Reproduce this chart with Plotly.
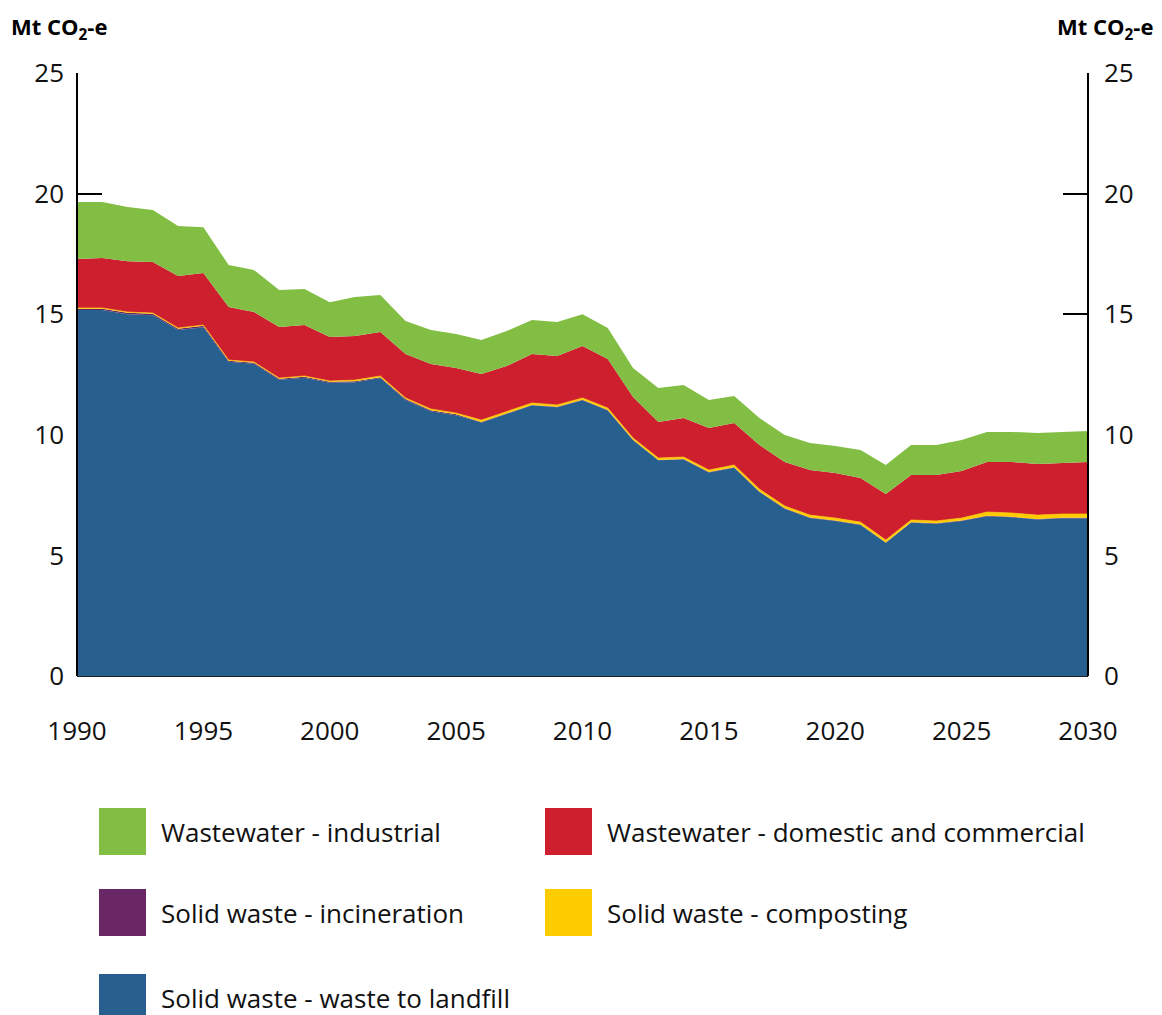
import plotly.graph_objects as go

years = list(range(1990, 2031))

landfill = [15.17, 15.17, 15.00, 14.96, 14.34, 14.46, 13.03, 12.95, 12.28, 12.37,
            12.16, 12.18, 12.35, 11.44, 10.98, 10.81, 10.51, 10.85, 11.22, 11.14,
            11.43, 11.01, 9.77, 8.94, 8.98, 8.44, 8.63, 7.63, 6.93, 6.55,
            6.43, 6.26, 5.52, 6.35, 6.31, 6.43, 6.62, 6.58, 6.49, 6.54, 6.54]
incineration = [0.06, 0.06, 0.06, 0.06, 0.06, 0.06, 0.04, 0.04, 0.04, 0.04,
                0.04, 0.04, 0.04, 0.04, 0.04, 0.04, 0.02, 0.02, 0.02, 0.02,
                0.02, 0.02, 0.02, 0.02, 0.02, 0.02, 0.02, 0.02, 0.02, 0.02,
                0.02, 0.02, 0.02, 0.02, 0.02, 0.02, 0.02, 0.02, 0.02, 0.02, 0.02]
composting = [0.03, 0.03, 0.03, 0.03, 0.03, 0.03, 0.03, 0.03, 0.03, 0.03,
              0.03, 0.05, 0.05, 0.05, 0.05, 0.05, 0.08, 0.08, 0.08, 0.08,
              0.08, 0.08, 0.08, 0.08, 0.08, 0.08, 0.10, 0.10, 0.10, 0.10,
              0.10, 0.10, 0.10, 0.10, 0.10, 0.10, 0.16, 0.16, 0.16, 0.16, 0.16]
domestic = [2.03, 2.07, 2.11, 2.11, 2.15, 2.16, 2.20, 2.07, 2.12, 2.11,
            1.82, 1.83, 1.82, 1.82, 1.87, 1.87, 1.91, 1.90, 2.03, 2.03,
            2.15, 2.03, 1.70, 1.49, 1.62, 1.74, 1.74, 1.83, 1.82, 1.87,
            1.87, 1.83, 1.91, 1.86, 1.90, 1.95, 2.07, 2.11, 2.12, 2.11, 2.15]
industrial = [2.36, 2.32, 2.24, 2.16, 2.08, 1.89, 1.74, 1.74, 1.53, 1.49,
              1.45, 1.61, 1.54, 1.37, 1.40, 1.41, 1.41, 1.45, 1.41, 1.41,
              1.32, 1.29, 1.20, 1.41, 1.36, 1.16, 1.12, 1.12, 1.12, 1.12,
              1.12, 1.16, 1.20, 1.25, 1.25, 1.28, 1.25, 1.25, 1.28, 1.29, 1.29]

series_names = ["Solid waste - waste to landfill", "Solid waste - incineration",
                "Solid waste - composting", "Wastewater - domestic and commercial",
                "Wastewater - industrial"]
series_values = [landfill, incineration, composting, domestic, industrial]
series_colors = ["#27608F", "#6A2765", "#FFCC00", "#CE1F2F", "#82BE43"]

y_ticks = [0, 5, 10, 15, 20, 25]
x_ticks = [1990, 1995, 2000, 2005, 2010, 2015, 2020, 2025, 2030]

FONT = "Open Sans"

fig = go.Figure()
for name, vals, col in zip(series_names, series_values, series_colors):
    fig.add_trace(go.Scatter(
        x=years, y=vals, name=name, mode="lines", stackgroup="one",
        line=dict(width=0.6 if name == "Solid waste - composting" else 0, color=col),
        fillcolor=col, showlegend=False, hoverinfo="x+y+name"))

# invisible trace for right axis
fig.add_trace(go.Scatter(x=[years[0]], y=[0], yaxis="y2", mode="markers",
                         marker=dict(opacity=0), showlegend=False, hoverinfo="skip"))

# page body has an 8px margin: lay the figure out in page coords minus 8
OFF = 8
W, H = 1162 - OFF, 1015 - OFF
L, R, T, B = 77 - OFF, 1088 - OFF, 73 - OFF, 676 - OFF

fig.update_layout(
    width=W, height=H,
    margin=dict(l=L, r=W - R, t=T, b=H - B, pad=0, autoexpand=False),
    plot_bgcolor="white", paper_bgcolor="white",
    font=dict(family=FONT, size=26, color="#111"),
    showlegend=False,
    xaxis=dict(range=[1990, 2030], tickvals=x_ticks, ticks="", showgrid=False,
               zeroline=False, showline=True, linecolor="#222", linewidth=1,
               automargin=False, ticklabelstandoff=32,
               tickfont=dict(size=26, family=FONT)),
    yaxis=dict(range=[0, 25], tickvals=y_ticks, ticks="inside", ticklen=25,
               tickwidth=2, tickcolor="black", showgrid=False, zeroline=False,
               showline=False, layer="below traces", ticklabelstandoff=12,
               automargin=False, tickfont=dict(size=26, family=FONT)),
    yaxis2=dict(range=[0, 25], tickvals=y_ticks, ticks="inside", ticklen=25,
                tickwidth=2, tickcolor="black", showgrid=False, zeroline=False,
                showline=False, overlaying="y", side="right", layer="below traces",
                ticklabelstandoff=15, automargin=False,
                tickfont=dict(size=26, family=FONT)),
)

# axis lines above the areas
fig.add_shape(type="line", xref="paper", yref="paper", x0=0, x1=0, y0=0, y1=1,
              line=dict(color="black", width=2), layer="above")
fig.add_shape(type="line", xref="paper", yref="paper", x0=1, x1=1, y0=0, y1=1,
              line=dict(color="black", width=2), layer="above")

def px_x(p):
    return (p - OFF - L) / (R - L)

def px_y(p):
    return (B - (p - OFF)) / (B - T)

title = "<b>Mt CO<sub>2</sub>-e</b>"
fig.add_annotation(text=title, xref="paper", yref="paper", x=px_x(9), y=px_y(28),
                   xanchor="left", yanchor="middle", showarrow=False,
                   font=dict(size=22, family=FONT, color="black"))
fig.add_annotation(text=title, xref="paper", yref="paper", x=px_x(1155), y=px_y(28),
                   xanchor="right", yanchor="middle", showarrow=False,
                   font=dict(size=22, family=FONT, color="black"))

# manual legend
legend_items = [
    ("Wastewater - industrial", "#82BE43", 99, 808),
    ("Wastewater - domestic and commercial", "#CE1F2F", 545, 808),
    ("Solid waste - incineration", "#6A2765", 99, 889),
    ("Solid waste - composting", "#FFCC00", 545, 889),
    ("Solid waste - waste to landfill", "#27608F", 99, 974),
]
for label, col, sx, sy in legend_items:
    fig.add_shape(type="rect", xref="paper", yref="paper",
                  x0=px_x(sx), x1=px_x(sx + 47), y0=px_y(sy + 47), y1=px_y(sy),
                  fillcolor=col, line=dict(width=0))
    fig.add_annotation(text=label, xref="paper", yref="paper",
                       x=px_x(sx + 60), y=px_y(sy + 24), xanchor="left",
                       yanchor="middle", showarrow=False,
                       font=dict(size=26, family=FONT, color="#111"))

fig.write_html("out.html")
